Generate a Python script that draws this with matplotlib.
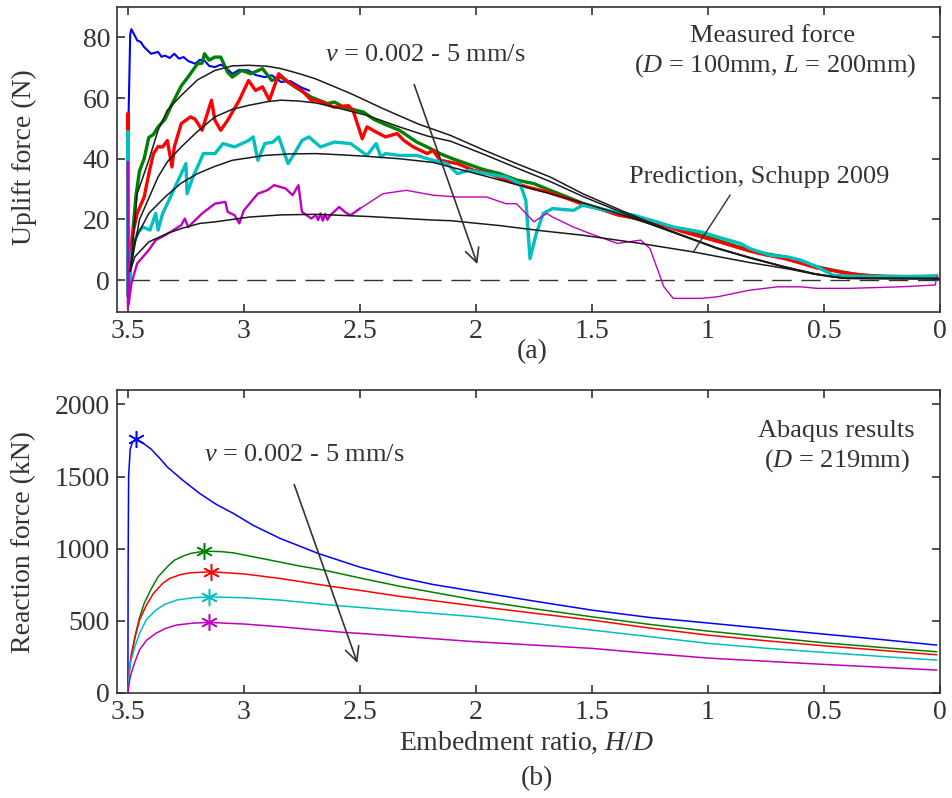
import numpy as np
import matplotlib
matplotlib.use('Agg')
import matplotlib.pyplot as plt

# --- (a) measured uplift force, (H/D, N) ---
blue_meas = [(3.50, 0), (3.497, 55), (3.49, 81), (3.485, 82.7), (3.47, 80.5), (3.46, 79), (3.445, 78.5),
             (3.43, 76.8), (3.40, 74.6), (3.37, 75.2), (3.355, 73.6), (3.34, 74), (3.32, 73.2), (3.30, 74.6),
             (3.28, 73.0), (3.26, 73.5), (3.24, 72.2), (3.21, 71.3), (3.19, 72.6), (3.17, 72.4), (3.15, 70.6),
             (3.125, 70.2), (3.10, 71.0), (3.08, 70.2), (3.05, 68), (3.02, 69.3), (2.98, 69.1), (2.95, 67.6),
             (2.91, 66.9), (2.88, 67.5), (2.84, 65.3), (2.80, 65.6), (2.78, 64.7), (2.75, 63.4), (2.72, 62.5)]

green_meas = [(3.495, -3), (3.48, 15), (3.465, 28), (3.45, 36), (3.43, 40), (3.41, 47), (3.39, 48),
              (3.37, 50.5), (3.34, 53), (3.31, 58), (3.27, 64), (3.24, 67), (3.20, 71.3), (3.18, 71.5),
              (3.17, 74.6), (3.15, 72.5), (3.125, 73.5), (3.10, 73.5), (3.07, 68.5), (3.05, 66.9),
              (3.01, 69.1), (2.97, 68), (2.92, 69.7), (2.88, 65.8), (2.84, 66.9), (2.78, 63.7), (2.71, 60.3),
              (2.64, 58.2), (2.61, 58.7), (2.57, 57), (2.485, 55.4), (2.44, 53), (2.40, 51.6), (2.33, 49.4),
              (2.255, 45.5), (2.20, 43.5), (2.155, 41.7), (2.10, 40), (2.04, 38.4), (1.97, 36.5),
              (1.897, 35.1), (1.825, 33), (1.75, 31.8), (1.68, 29.6), (1.61, 27.5), (1.54, 25.3),
              (1.46, 23.5), (1.39, 22), (1.32, 20.5), (1.25, 19.7), (1.18, 18), (1.11, 16.5), (1.03, 14.8),
              (0.96, 13.2), (0.89, 11.5), (0.82, 9.9), (0.75, 8.7), (0.675, 7.7), (0.60, 6), (0.53, 4.4),
              (0.47, 3.4), (0.42, 2.7), (0.37, 2), (0.32, 1.6), (0.245, 1.3), (0.15, 1.2), (0.08, 1.2),
              (0.015, 1.3)]

red_meas = [(3.50, -5), (3.50, 55), (3.497, -2), (3.48, 15), (3.46, 22), (3.43, 27.4), (3.41, 35),
            (3.39, 41.7), (3.37, 44), (3.35, 43.9), (3.33, 46), (3.31, 37.3), (3.30, 43.9), (3.27, 51.6),
            (3.23, 53.8), (3.21, 53), (3.18, 49.4), (3.14, 59.3), (3.125, 52.7), (3.10, 49.4), (3.07, 52.7),
            (3.02, 59.3), (2.98, 65.8), (2.95, 62.5), (2.92, 63.7), (2.89, 59.3), (2.85, 68), (2.81, 65.3),
            (2.75, 62.5), (2.71, 59.3), (2.69, 59.3), (2.61, 57), (2.55, 57.5), (2.53, 56), (2.49, 46.6),
            (2.47, 50.5), (2.43, 48.8), (2.39, 47.2), (2.34, 48.3), (2.31, 46), (2.27, 43.9), (2.21, 41.7),
            (2.185, 42.8), (2.155, 39.5), (2.08, 38.4), (2.01, 36.2), (1.94, 35.1), (1.87, 32.9),
            (1.78, 30.7), (1.695, 29.1), (1.61, 27), (1.54, 25), (1.46, 23.3), (1.39, 21.5), (1.32, 20.5),
            (1.25, 19), (1.18, 17.8), (1.11, 16), (1.03, 14.3), (0.96, 12.8), (0.89, 11.2), (0.82, 9.6),
            (0.75, 8.3), (0.675, 7.2), (0.60, 5.6), (0.53, 4), (0.47, 3.3), (0.42, 2.5), (0.35, 1.8),
            (0.28, 1.3), (0.20, 1.1), (0.10, 1.1), (0.015, 1.2)]

cyan_meas = [(3.50, -5), (3.50, 49), (3.497, -3), (3.48, 11), (3.455, 16), (3.435, 17.5), (3.405, 16.5),
             (3.38, 22), (3.37, 16.5), (3.35, 22), (3.33, 25.2), (3.29, 31.8), (3.25, 38.4), (3.245, 28.5),
             (3.22, 34), (3.20, 37.3), (3.175, 41.7), (3.125, 41.7), (3.09, 45), (3.04, 43.9), (2.98, 46),
             (2.96, 47.2), (2.94, 39.5), (2.91, 45), (2.875, 45.5), (2.85, 47.2), (2.81, 38.4), (2.78, 42),
             (2.75, 46), (2.72, 47.2), (2.67, 43.9), (2.61, 45.5), (2.54, 45), (2.47, 41.1), (2.43, 45),
             (2.41, 40.6), (2.39, 41.7), (2.33, 41.1), (2.255, 41.1), (2.185, 39.5), (2.125, 38.4),
             (2.08, 35.1), (2.03, 36.2), (1.955, 35.1), (1.87, 34), (1.81, 31.8), (1.785, 26.3),
             (1.767, 7.1), (1.74, 15.4), (1.71, 22), (1.67, 23.6), (1.58, 23), (1.54, 24.7), (1.44, 23),
             (1.32, 21.4), (1.22, 19.2), (1.15, 17.5), (1.03, 15.9), (0.935, 13.7), (0.86, 12.1),
             (0.82, 10.4), (0.73, 8.2), (0.66, 7.7), (0.60, 6.6), (0.53, 4.4), (0.46, 1.6), (0.39, 1.3),
             (0.20, 1.1), (0.015, 1.3)]

magenta_meas_dense = [(3.50, -9), (3.50, 39), (3.497, -8), (3.485, -1.1), (3.46, 5.5), (3.41, 9.9),
                      (3.38, 13.2), (3.34, 14.8), (3.27, 18.1), (3.255, 20.3), (3.24, 17.5), (3.18, 22),
                      (3.125, 25.2), (3.08, 25.8), (3.07, 22.5), (3.04, 21.4), (3.02, 18.7), (3.00, 23),
                      (2.94, 28.5), (2.90, 29.6), (2.87, 31.3), (2.82, 30.2), (2.79, 28), (2.765, 31.3),
                      (2.75, 22.5), (2.71, 20.3), (2.69, 21.4), (2.68, 19.8), (2.67, 22), (2.66, 19.6),
                      (2.65, 21.8), (2.64, 19.9), (2.63, 21.2), (2.59, 24.1), (2.56, 22.2), (2.54, 21.4),
                      (2.50, 23.6)]
magenta_meas_sparse = [(2.50, 23.6), (2.40, 28.5), (2.30, 29.6), (2.185, 28), (2.08, 27.4), (1.955, 27.4),
                       (1.87, 25.2), (1.825, 25.2), (1.75, 19.2), (1.695, 22), (1.67, 20.8), (1.58, 17.5),
                       (1.51, 15.4), (1.39, 12.1), (1.29, 13.2), (1.25, 10.4), (1.19, -2.2), (1.15, -6),
                       (1.03, -6), (0.96, -5.5), (0.82, -3.3), (0.70, -2.2), (0.60, -2.2), (0.53, -2.7),
                       (0.39, -2.7), (0.17, -2.2), (0.02, -1.6), (0.015, 1.1)]

# prediction curves (Schupp 2009)
pred_1 = [(3.49, 3), (3.46, 28.5), (3.41, 39.5), (3.37, 49.4), (3.33, 56), (3.27, 60.9), (3.20, 66),
          (3.125, 69.1), (3.05, 70.6), (2.98, 70.8), (2.90, 70.5), (2.84, 69.7), (2.76, 68), (2.69, 66.3),
          (2.54, 61.5), (2.40, 56.5), (2.25, 51.5), (2.11, 47.7), (1.97, 43), (1.825, 38.4), (1.68, 34),
          (1.54, 28.5), (1.39, 23.5), (1.25, 19), (1.10, 14.5), (0.96, 10.5), (0.82, 7.5), (0.675, 4.5),
          (0.55, 2.3), (0.45, 1.0), (0.40, 0.6), (0.0, 0.5)]
pred_2 = [(3.49, 3), (3.45, 20), (3.41, 27), (3.37, 34), (3.33, 39), (3.27, 43.9), (3.20, 49),
          (3.125, 53.8), (3.05, 56.3), (2.98, 57.6), (2.90, 58.8), (2.84, 59.3), (2.76, 59), (2.69, 58.4),
          (2.61, 57), (2.47, 54.3), (2.33, 50.5), (2.21, 47.5), (2.11, 45.8), (1.97, 41.6), (1.825, 37),
          (1.68, 32.5), (1.54, 27.6), (1.39, 22.9), (1.25, 18.5), (1.10, 14.3), (0.96, 10.4), (0.82, 7.3),
          (0.675, 4.4), (0.55, 2.2), (0.45, 1.0), (0.40, 0.6), (0.0, 0.5)]
pred_3 = [(3.49, 3), (3.47, 13.2), (3.41, 22), (3.34, 27.4), (3.27, 32), (3.20, 35.1), (3.125, 37.5),
          (3.05, 39.5), (2.91, 41.1), (2.80, 41.6), (2.69, 41.7), (2.58, 41.3), (2.47, 40.8), (2.33, 40),
          (2.185, 38.8), (2.11, 37.3), (1.97, 34.5), (1.825, 31.5), (1.68, 28.5), (1.54, 25.5), (1.39, 22),
          (1.25, 18.5), (1.10, 14.5), (0.96, 10.6), (0.82, 7.4), (0.675, 4.5), (0.55, 2.2), (0.45, 1.0),
          (0.40, 0.6), (0.0, 0.5)]
pred_4 = [(3.49, 3), (3.47, 7.7), (3.41, 12.6), (3.33, 15.4), (3.27, 17), (3.19, 18.7), (3.125, 19.2),
          (2.975, 20.8), (2.84, 21.5), (2.69, 21.7), (2.47, 21), (2.185, 19.8), (2.11, 19.6), (1.90, 18),
          (1.72, 16.3), (1.54, 14.8), (1.30, 12.2), (1.063, 9.3), (0.82, 5.8), (0.647, 3.6), (0.53, 1.8),
          (0.46, 1.0), (0.40, 0.6), (0.0, 0.5)]

# --- (b) Abaqus reaction force, (H/D, kN) ---
blue_fe = [(3.50, 0), (3.499, 900), (3.497, 1500), (3.49, 1690), (3.48, 1740), (3.465, 1758), (3.44, 1738),
           (3.40, 1690), (3.36, 1622), (3.33, 1566), (3.26, 1470), (3.19, 1382), (3.12, 1308), (3.045, 1244),
           (2.96, 1162), (2.845, 1072), (2.68, 967), (2.5, 872), (2.33, 801), (2.185, 752), (2.0, 703),
           (1.75, 637), (1.5, 574), (1.25, 523), (1.0, 485), (0.75, 446), (0.5, 408), (0.25, 370),
           (0.015, 332)]
green_fe = [(3.50, 0), (3.495, 120), (3.49, 200), (3.47, 390), (3.45, 520), (3.43, 621), (3.40, 720),
            (3.37, 805), (3.33, 875), (3.30, 920), (3.26, 950), (3.23, 967), (3.17, 983), (3.10, 980),
            (3.045, 971), (2.90, 925), (2.76, 880), (2.65, 850), (2.5, 797), (2.33, 740), (2.0, 644),
            (1.75, 584), (1.5, 528), (1.25, 475), (1.0, 429), (0.75, 388), (0.5, 348), (0.25, 315),
            (0.015, 286)]
red_fe = [(3.50, 0), (3.495, 150), (3.485, 275), (3.47, 380), (3.45, 505), (3.42, 610), (3.39, 690),
          (3.35, 760), (3.32, 794), (3.27, 822), (3.23, 833), (3.14, 840), (3.0, 825), (2.845, 794),
          (2.63, 740), (2.5, 711), (2.33, 670), (2.0, 602), (1.75, 553), (1.5, 505), (1.25, 450),
          (1.0, 401), (0.75, 362), (0.5, 327), (0.25, 295), (0.015, 265)]
cyan_fe = [(3.50, 0), (3.495, 120), (3.49, 205), (3.47, 320), (3.45, 413), (3.42, 510), (3.38, 574),
           (3.34, 615), (3.29, 644), (3.22, 660), (3.15, 666), (3.0, 660), (2.845, 644), (2.61, 607),
           (2.5, 593), (2.0, 528), (1.75, 482), (1.5, 436), (1.25, 390), (1.0, 344), (0.75, 310),
           (0.5, 281), (0.25, 253), (0.015, 228)]
magenta_fe = [(3.50, 0), (3.495, 60), (3.49, 113), (3.47, 215), (3.45, 298), (3.42, 365), (3.38, 413),
              (3.34, 446), (3.29, 471), (3.22, 484), (3.15, 489), (3.0, 478), (2.845, 459), (2.57, 420),
              (2.5, 413), (2.0, 355), (1.5, 309), (1.293, 280), (1.0, 242), (0.75, 220), (0.5, 198),
              (0.25, 178), (0.015, 159)]
peak_hd = [3.465, 3.17, 3.14, 3.15, 3.15]
peak_force = [1758, 983, 840, 666, 489]

colors = ['#0000ff', '#008000', '#ff0000', '#00bfbf', '#bf00bf']
txt = '#333333'

plt.rcParams['font.family'] = ['Liberation Serif', 'DejaVu Serif']
plt.rcParams['mathtext.fontset'] = 'custom'
plt.rcParams['mathtext.rm'] = 'Liberation Serif'
plt.rcParams['mathtext.it'] = 'Liberation Serif:italic'


def xy(pairs):
    a = np.array(pairs, dtype=float)
    return a[:, 0], a[:, 1]


def style_axes(ax):
    for s in ax.spines.values():
        s.set_color(txt)
        s.set_linewidth(1.2)
    ax.tick_params(direction='in', top=True, right=True, length=6, width=1.2,
                   colors=txt, labelsize=20, pad=5)
    ax.set_xlim(3.547, 0)
    ax.set_xticks([3.5, 3, 2.5, 2, 1.5, 1, 0.5, 0])
    ax.set_xticklabels(['3.5', '3', '2.5', '2', '1.5', '1', '0.5', '0'])


fig = plt.figure(figsize=(9.52, 7.98), dpi=100)
ax1 = fig.add_axes([0.1229, 0.6090, 0.8645, 0.3822])
ax2 = fig.add_axes([0.1229, 0.1316, 0.8645, 0.3797])

# ---- panel (a)
ax1.hlines(0, 3.49, 0, colors=txt, linestyles=(0, (14, 7)), linewidth=1.0)
ax1.plot(*xy(blue_meas), color=colors[0], lw=1.5)
ax1.plot(*xy(green_meas), color=colors[1], lw=2.4)
ax1.plot(*xy(red_meas), color=colors[2], lw=2.4)
ax1.plot(*xy(cyan_meas), color=colors[3], lw=2.4)
ax1.plot(*xy(magenta_meas_dense), color=colors[4], lw=1.7)
ax1.plot(*xy(magenta_meas_sparse), color=colors[4], lw=1.0)
for p in (pred_1, pred_2, pred_3, pred_4):
    ax1.plot(*xy(p), color='#1a1a1a', lw=1.1)

style_axes(ax1)
ax1.set_ylim(-10.5, 90)
ax1.set_yticks([0, 20, 40, 60, 80])

ax1.annotate('', xy=(1.99, 4.4), xytext=(2.27, 65.3),
             arrowprops=dict(arrowstyle='->', color=txt, lw=1.2, mutation_scale=25))
ax1.plot([0.905, 1.063], [28, 9.3], color=txt, lw=1.0)
ax1.text(0.375, 0.843, r'$v$ = 0.002 - 5 mm/s', transform=ax1.transAxes, ha='center', va='center',
         fontsize=19, color=txt)
ax1.text(0.797, 0.905, 'Measured force', transform=ax1.transAxes, ha='center', va='center',
         fontsize=19, color=txt)
ax1.text(0.800, 0.808, r'($D$ = 100mm, $L$ = 200mm)', transform=ax1.transAxes, ha='center', va='center',
         fontsize=19, color=txt)
ax1.text(0.780, 0.443, 'Prediction, Schupp 2009', transform=ax1.transAxes, ha='center', va='center',
         fontsize=19, color=txt)
ax1.text(-0.112, 0.509, 'Uplift force (N)', transform=ax1.transAxes, ha='center', va='center',
         rotation=90, fontsize=20, color=txt)
ax1.text(0.505, -0.131, '(a)', transform=ax1.transAxes, ha='center', va='center', fontsize=20, color=txt)

# ---- panel (b)
for pairs, c in zip((blue_fe, green_fe, red_fe, cyan_fe, magenta_fe), colors):
    ax2.plot(*xy(pairs), color=c, lw=1.1)
for h, f, c in zip(peak_hd, peak_force, colors):
    ax2.plot(h, f, marker=(6, 2, 0), ms=12, mew=1.1, color=c, linestyle='none')

style_axes(ax2)
ax2.set_ylim(0, 2100)
ax2.set_yticks([0, 500, 1000, 1500, 2000])

ax2.annotate('', xy=(2.507, 190), xytext=(2.787, 1462),
             arrowprops=dict(arrowstyle='->', color=txt, lw=1.2, mutation_scale=25))
ax2.text(0.228, 0.785, r'$v$ = 0.002 - 5 mm/s', transform=ax2.transAxes, ha='center', va='center',
         fontsize=19, color=txt)
ax2.text(0.874, 0.865, 'Abaqus results', transform=ax2.transAxes, ha='center', va='center',
         fontsize=19, color=txt)
ax2.text(0.875, 0.766, r'($D$ = 219mm)', transform=ax2.transAxes, ha='center', va='center',
         fontsize=19, color=txt)
ax2.text(-0.113, 0.497, 'Reaction force (kN)', transform=ax2.transAxes, ha='center', va='center',
         rotation=90, fontsize=20, color=txt)
ax2.text(0.498, -0.165, r'Embedment ratio, $H/D$', transform=ax2.transAxes, ha='center', va='center',
         fontsize=20, color=txt)
ax2.text(0.510, -0.284, '(b)', transform=ax2.transAxes, ha='center', va='center', fontsize=20, color=txt)

fig.savefig('out.png', dpi=100)
